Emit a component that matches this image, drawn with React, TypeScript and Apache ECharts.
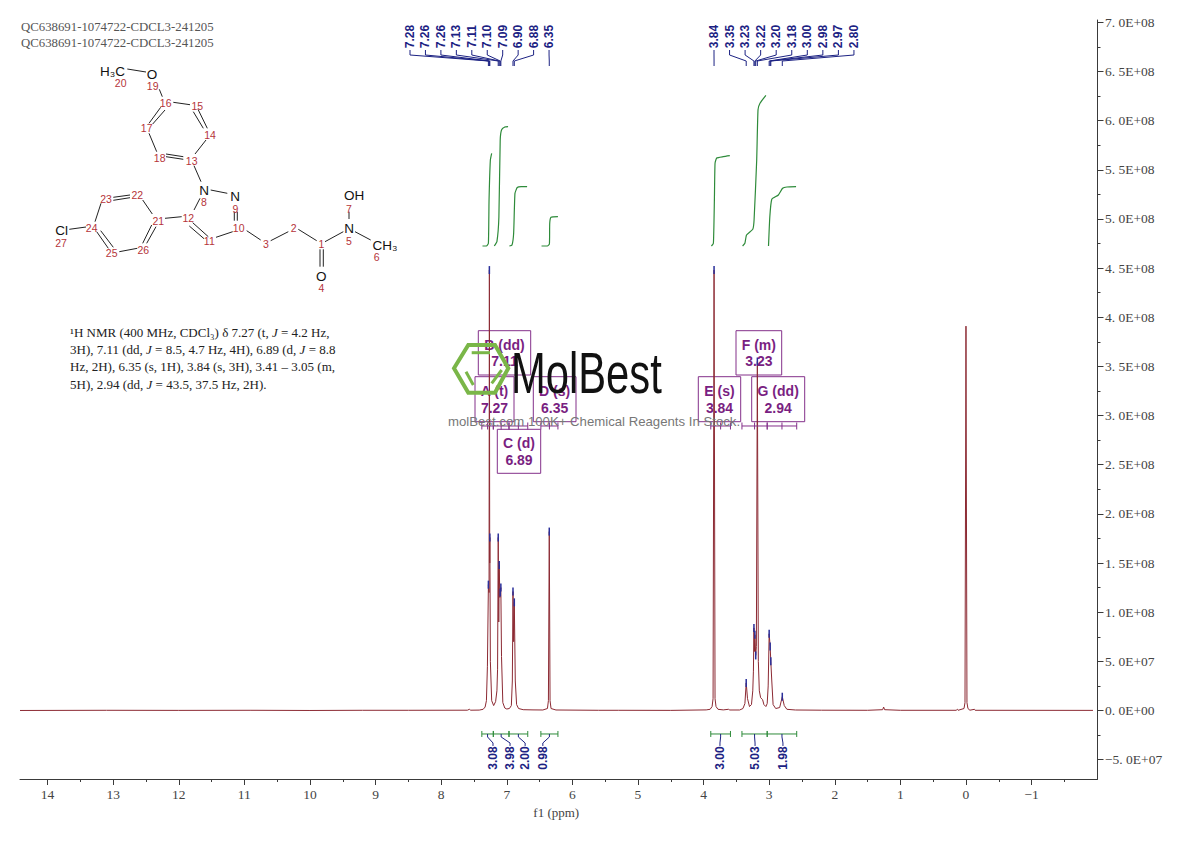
import React, { useEffect, useRef } from "react";
import * as echarts from "echarts";

const SPECTRUM_PPM = [14.42,13.1,12.0,10.9,10.0,9.2,8.5,7.60,7.57,7.55,7.42,7.36,7.33,7.31,7.295,7.28,7.27,7.265,7.26,7.258,7.25,7.23,7.20,7.17,7.15,7.14,7.13,7.122,7.115,7.105,7.10,7.09,7.08,7.06,7.03,7.00,6.96,6.93,6.915,6.905,6.895,6.885,6.87,6.85,6.82,6.75,6.6,6.45,6.38,6.365,6.352,6.34,6.325,6.25,5.6,5.3,4.5,3.96,3.90,3.87,3.855,3.84,3.825,3.81,3.78,3.70,3.62,3.60,3.45,3.40,3.37,3.35,3.33,3.30,3.27,3.25,3.24,3.232,3.225,3.218,3.205,3.195,3.18,3.165,3.15,3.13,3.10,3.08,3.05,3.03,3.015,3.00,2.985,2.975,2.96,2.94,2.90,2.84,2.80,2.77,2.73,2.6,2.2,1.5,1.27,1.255,1.24,1.0,0.15,0.13,0.12,0.03,0.015,0.0,-0.015,-0.03,-0.06,-0.13,-0.14,-1.936];
const SPECTRUM_E8 = [0,0.002,0.001,0.002,0,0.002,0.002,0.003,0.012,0.003,0.004,0.012,0.035,0.1,0.45,1.28,1.2,4.48,1.5,1.76,0.5,0.1,0.05,0.09,0.2,0.42,1.76,0.9,1.48,1.15,1.2,1.25,0.55,0.08,0.025,0.015,0.02,0.05,0.3,1.21,0.7,1.1,0.3,0.06,0.02,0.008,0.006,0.005,0.02,0.1,1.82,0.1,0.02,0.005,0.002,0.002,0.001,0.006,0.012,0.04,0.12,4.48,0.12,0.04,0.012,0.006,0.012,0.005,0.005,0.02,0.07,0.28,0.12,0.04,0.06,0.2,0.4,0.84,0.6,0.77,0.56,0.65,3.55,0.5,0.2,0.13,0.11,0.06,0.04,0.07,0.25,0.78,0.65,0.5,0.3,0.06,0.02,0.03,0.14,0.05,0.012,0.005,0.003,0.002,0.008,0.035,0.008,0.002,0.002,0.012,0.002,0.02,0.08,3.91,0.08,0.02,0.003,0.012,0.002,0.001];

const PEAK_LABELS_LEFT = ["7.28","7.26","7.26","7.13","7.11","7.10","7.09","6.90","6.88","6.35"];
const PEAK_PPM_LEFT = [7.28,7.265,7.258,7.13,7.115,7.10,7.09,6.905,6.885,6.352];
const PEAK_E8_LEFT = [1.28,4.48,1.76,1.76,1.48,1.2,1.25,1.21,1.1,1.82];
const PEAK_LABELS_RIGHT = ["3.84","3.35","3.23","3.22","3.20","3.18","3.00","2.98","2.97","2.80"];
const PEAK_PPM_RIGHT = [3.84,3.35,3.232,3.218,3.205,3.18,3.0,2.985,2.975,2.80];
const PEAK_E8_RIGHT = [4.48,0.28,0.84,0.77,0.56,3.55,0.78,0.65,0.5,0.14];

const INTEGRAL_FROM = [7.38,7.205,6.966,6.48,3.89,3.415,3.03];
const INTEGRAL_TO = [7.205,6.966,6.68,6.22,3.59,3.03,2.58];
const INTEGRAL_VALUES = ["3.08","3.98","2.00","0.98","3.00","5.03","1.98"];
const INTEGRAL_LABEL_PPM = [7.21,6.95,6.72,6.45,3.75,3.215,2.79];

const CURVE_A = [[7.37,4.725],[7.31,4.725],[7.28,4.753],[7.27,5.193],[7.25,5.6],[7.23,5.668]];
const CURVE_B = [[7.19,4.725],[7.15,4.77],[7.12,5.02],[7.1,5.8],[7.08,5.905],[7.03,5.935],[6.98,5.94]];
const CURVE_C = [[6.96,4.725],[6.92,4.735],[6.895,4.855],[6.875,5.26],[6.84,5.32],[6.78,5.33],[6.69,5.33]];
const CURVE_D = [[6.47,4.725],[6.38,4.725],[6.35,4.745],[6.345,4.956],[6.325,5.017],[6.22,5.023]];
const CURVE_E = [[3.88,4.725],[3.85,4.753],[3.835,5.193],[3.825,5.567],[3.8,5.62],[3.7,5.634],[3.6,5.644]];
const CURVE_F = [[3.405,4.725],[3.37,4.753],[3.345,4.837],[3.25,4.895],[3.23,4.99],[3.19,5.6],[3.17,6.11],[3.14,6.177],[3.05,6.258]];
const CURVE_G = [[3.01,4.725],[2.99,5.023],[2.96,5.2],[2.86,5.244],[2.795,5.312],[2.73,5.325],[2.59,5.328]];
const INTEGRAL_CURVES = [CURVE_A,CURVE_B,CURVE_C,CURVE_D,CURVE_E,CURVE_F,CURVE_G];

const X_TICKS = [14,13,12,11,10,9,8,7,6,5,4,3,2,1,0,-1];
const X_MINOR_TICKS = [13.5,12.5,11.5,10.5,9.5,8.5,7.5,6.5,5.5,4.5,3.5,2.5,1.5,0.5,-0.5,-1.5];
const Y_TICK_E7 = [70,65,60,55,50,45,40,35,30,25,20,15,10,5,0,-5];
const Y_TICK_LABELS = ["7. 0E+08","6. 5E+08","6. 0E+08","5. 5E+08","5. 0E+08","4. 5E+08","4. 0E+08","3. 5E+08","3. 0E+08","2. 5E+08","2. 0E+08","1. 5E+08","1. 0E+08","5. 0E+07","0. 0E+00","−5. 0E+07"];
const Y_MINOR_E7 = [67.5,62.5,57.5,52.5,47.5,42.5,37.5,32.5,27.5,22.5,17.5,12.5,7.5,2.5,-2.5];

const TITLE_LINES = ["QC638691-1074722-CDCL3-241205","QC638691-1074722-CDCL3-241205"];
const ASSIGNMENTS = [
  { letter: "A (t)", shift: "7.27", box: [475,376.7,39,45] },
  { letter: "B (dd)", shift: "7.11", box: [478.3,330.7,52.4,44.3] },
  { letter: "C (d)", shift: "6.89", box: [497.3,429.3,43.4,44] },
  { letter: "D (s)", shift: "6.35", box: [533.3,376.7,42.7,45] },
  { letter: "E (s)", shift: "3.84", box: [698.3,376.7,42.4,45] },
  { letter: "F (m)", shift: "3.23", box: [736,330.7,45.7,44.3] },
  { letter: "G (dd)", shift: "2.94", box: [751.7,376.7,53,45] },
];

const BONDS = [
  [127.3,69,146,72],[159.3,89.3,162.3,96.7],[173.3,102.3,190,104.7],[198,109.3,207.3,128.3],[193.3,111.7,203.3,128.3],
  [206,140,195,154],[183.3,156.7,166,154],[183.3,159.3,166,156.7],[156.7,151.7,149,133.3],[149,123.3,160.7,107.3],[152.7,124,165,110],
  [194,165.7,201,181.7],[210.7,190,227.3,193.3],[234.3,211.7,234.3,220.7],[237.3,211.7,237.3,220.7],[194,210,200,198.3],
  [192.7,222.7,208.3,236.7],[189.3,226,204,238.7],[216,237.3,232.7,231.7],[246.7,230.7,260.7,240],[270.7,240.7,288.3,231.7],
  [298.3,229.3,316.7,240.7],[320,249.3,320,266.7],[323.3,249.3,323.3,266.7],[325,241.7,343.3,231.7],[349,211.7,349,219],
  [355,231.7,370.7,240],[165,218.3,181.7,216.7],[152.3,214,142.7,200],[130,195,113.3,197.3],[130,197.7,113.3,200.3],
  [101,203.3,95,221.7],[69.3,229.3,86,227],[96.7,231.7,108.3,248.3],[100.7,230.7,113.3,247.3],[119.3,251.7,137.3,248.3],
  [142.7,243.3,151.7,225],[146.7,243.3,156,226.7],
];
const ATOM_TEXT: [string, number, number][] = [
  ["H₃C",112.5,71],["O",152,74],["N",204,190],["N",235,196.7],["O",321.3,276],["N",349,228.3],["OH",354,195.5],["CH₃",385,245.5],["Cl",61.7,230.7],
];
const ATOM_NUMBERS: [string, number, number][] = [
  ["20",120.7,82.7],["19",152.7,86],["16",165.7,102.7],["15",197.3,106],["14",210,135],["13",191.7,160.7],["18",159.7,157.7],["17",146.7,128.3],
  ["8",204,202],["9",235.3,208.7],["10",238.7,228.3],["12",188.3,217.7],["11",209.3,241.3],["21",158.3,220.7],["3",266,244],["2",293.7,228.3],
  ["1",321.3,244],["4",321.3,288.3],["5",349,240.7],["7",349,208.5],["6",376.7,257],["22",137.3,195],["23",106,198.7],["24",91.7,227.7],
  ["27",61,243],["25",111.7,253.3],["26",143.3,250],
];
const DESCRIPTION = [
  "{t|¹H NMR (400 MHz, CDCl₃) δ 7.27 (t, }{i|J}{t| = 4.2 Hz,}",
  "{t|3H), 7.11 (dd, }{i|J}{t| = 8.5, 4.7 Hz, 4H), 6.89 (d, }{i|J}{t| = 8.8}",
  "{t|Hz, 2H), 6.35 (s, 1H), 3.84 (s, 3H), 3.41 – 3.05 (m,}",
  "{t|5H), 2.94 (dd, }{i|J}{t| = 43.5, 37.5 Hz, 2H).}",
];

const NAVY = "#1c2283";
const GREEN = "#2e8b3a";
const PURPLE = "#84308a";
const AXIS = "#3a3a3a";
const SERIF = '"Liberation Serif", serif';
const PEAK_LINE_Y = [50, 55, 61, 66];

function buildGraphic() {
  const els: any[] = [];
  TITLE_LINES.forEach((t, i) => els.push({ type: "text", x: 21, y: 27 + i * 16, style: { text: t, fill: "#555", font: `12.8px ${SERIF}`, verticalAlign: "middle" } }));
  BONDS.forEach((b) => els.push({ type: "line", shape: { x1: b[0], y1: b[1], x2: b[2], y2: b[3] }, style: { stroke: "#222", lineWidth: 1 } }));
  ATOM_TEXT.forEach(([t, x, y]) => els.push({ type: "text", x, y, style: { text: t, fill: "#111", font: '13.5px "Liberation Sans"', align: "center", verticalAlign: "middle" } }));
  ATOM_NUMBERS.forEach(([t, x, y]) => els.push({ type: "text", x, y, style: { text: t, fill: "#b5343a", font: '10.5px "Liberation Sans"', align: "center", verticalAlign: "middle" } }));
  DESCRIPTION.forEach((t, i) => els.push({
    type: "text", x: 70, y: 332 + i * 17.4,
    style: { text: t, verticalAlign: "middle", rich: {
      t: { font: '13px "Liberation Serif"', fill: "#222" },
      i: { font: 'italic 13px "Liberation Serif"', fill: "#222" },
    } },
  }));
  ASSIGNMENTS.forEach((a) => {
    const [x, y, w, h] = a.box;
    els.push({ type: "rect", shape: { x, y, width: w, height: h }, style: { fill: "none", stroke: PURPLE, lineWidth: 1 } });
    els.push({ type: "text", x: x + w / 2, y: y + h / 2 - 8, style: { text: a.letter, fill: "#7a1f82", font: 'bold 14px "Liberation Sans"', align: "center", verticalAlign: "middle" } });
    els.push({ type: "text", x: x + w / 2, y: y + h / 2 + 8.5, style: { text: a.shift, fill: "#7a1f82", font: 'bold 14px "Liberation Sans"', align: "center", verticalAlign: "middle" } });
  });
  // Watermark
  const LOGO = "#7ab648";
  els.push({ type: "polygon", z: 50, shape: { points: [[454,368.3],[468.3,345],[495,345],[508.3,368.3],[495,392.7],[468.3,392.7]] }, style: { fill: "none", stroke: LOGO, lineWidth: 4 } });
  [[471.7,352.7,490,352.7],[466,371.7,473.3,385],[491.7,383.3,501.7,370]].forEach((l) =>
    els.push({ type: "line", z: 50, shape: { x1: l[0], y1: l[1], x2: l[2], y2: l[3] }, style: { stroke: LOGO, lineWidth: 3 } }));
  els.push({ type: "text", z: 50, x: 511, y: 373, scaleX: 0.72, style: { text: "MolBest", fill: "#111", font: '58px "Liberation Sans"', verticalAlign: "middle" } });
  els.push({ type: "text", z: 50, x: 448, y: 421.5, style: { text: "molBest.com 100K+ Chemical Reagents In Stock.", fill: "#777", font: '13.2px "Liberation Sans"', verticalAlign: "middle" } });
  return els;
}

function peakSeries(ppm: number[], heights: number[], labels: string[], startX: number, step: number) {
  return {
    type: "custom", silent: true, clip: false, z: 5,
    encode: { x: 0, y: 1 },
    data: ppm.map((p, i) => [p, heights[i] * 1e8]),
    renderItem: (params: any, api: any) => {
      const i = params.dataIndex;
      const tip = api.coord([api.value(0), api.value(1)]);
      const lx = startX + i * step;
      return {
        type: "group",
        children: [
          { type: "rect", shape: { x: tip[0] - 0.75, y: tip[1] - 4, width: 1.5, height: 8 }, style: { fill: "#2a2f9a" } },
          { type: "polyline", shape: { points: [[lx, PEAK_LINE_Y[0]], [lx, PEAK_LINE_Y[1]], [tip[0], PEAK_LINE_Y[2]], [tip[0], PEAK_LINE_Y[3]]] }, style: { stroke: NAVY, lineWidth: 1, fill: "none" } },
          { type: "text", x: lx, y: 36.5, rotation: Math.PI / 2, style: { text: labels[i], fill: NAVY, font: 'bold 12px "Liberation Sans"', align: "center", verticalAlign: "middle" } },
        ],
      };
    },
  };
}

function bracket(api: any, from: number, to: number, v: number, cap: number, color: string, stub: boolean) {
  const a = api.coord([from, v]);
  const b = api.coord([to, v]);
  const style = { stroke: color, lineWidth: 1, fill: "none" };
  const kids: any[] = [
    { type: "line", shape: { x1: a[0], y1: a[1], x2: b[0], y2: b[1] }, style },
    { type: "line", shape: { x1: a[0], y1: a[1] - cap, x2: a[0], y2: a[1] + cap }, style },
    { type: "line", shape: { x1: b[0], y1: b[1] - cap, x2: b[0], y2: b[1] + cap }, style },
  ];
  if (stub) {
    const m = (a[0] + b[0]) / 2;
    kids.push({ type: "line", shape: { x1: m, y1: a[1] - cap, x2: m, y2: a[1] + cap }, style });
  }
  return kids;
}

export default function App() {
  const ref = useRef<HTMLDivElement>(null);
  useEffect(() => {
    document.body.style.margin = "0";
    const chart = echarts.init(ref.current!, undefined, { renderer: "svg" });
    const xBase = {
      type: "value", inverse: true, min: -2.005, max: 14.42, splitLine: { show: false }, axisLine: { onZero: false },
    };
    const yBase = {
      type: "value", min: -6.97e7, max: 7.024e8, position: "right", splitLine: { show: false }, axisLine: { onZero: false },
    };
    chart.setOption({
      animation: false,
      backgroundColor: "#fff",
      grid: { left: 20, right: 92.5, top: 20, bottom: 62, containLabel: false },
      graphic: { elements: buildGraphic() },
      xAxis: [
        {
          ...xBase,
          name: "f1 (ppm)", nameLocation: "middle", nameGap: 24,
          nameTextStyle: { fontFamily: "Liberation Serif", fontSize: 13, color: "#444", padding: [0, 5, 0, 0] },
          axisLine: { show: true, onZero: false, lineStyle: { color: AXIS, width: 1 } },
          axisTick: { show: true, length: 6, inside: false, lineStyle: { color: AXIS }, customValues: X_TICKS },
          axisLabel: { show: true, margin: 8, customValues: X_TICKS, fontFamily: "Liberation Serif", fontSize: 13.5, color: "#444",
            formatter: (v: number) => (v < 0 ? `−${-v}` : `${v}`) },
        },
        {
          ...xBase,
          position: "bottom",
          axisLine: { show: false, onZero: false },
          axisTick: { show: true, length: 3, lineStyle: { color: AXIS }, customValues: X_MINOR_TICKS },
          axisLabel: { show: false },
        },
      ],
      yAxis: [
        {
          ...yBase,
          axisLine: { show: true, onZero: false, lineStyle: { color: AXIS, width: 1 } },
          axisTick: { show: true, length: 6, lineStyle: { color: AXIS }, customValues: Y_TICK_E7.map((v) => v * 1e7) },
          axisLabel: { show: true, margin: 7.5, align: "left", customValues: Y_TICK_E7.map((v) => v * 1e7), fontFamily: "Liberation Serif", fontSize: 13.5, color: "#444",
            formatter: (v: number) => Y_TICK_LABELS[Y_TICK_E7.indexOf(Math.round(v / 1e7))] },
        },
        {
          ...yBase,
          axisLine: { show: false, onZero: false },
          axisTick: { show: true, length: 3, lineStyle: { color: AXIS }, customValues: Y_MINOR_E7.map((v) => v * 1e7) },
          axisLabel: { show: false },
        },
      ],
      series: [
        {
          type: "line", name: "spectrum", silent: true, showSymbol: false, symbol: "none", z: 3, clip: false,
          data: SPECTRUM_PPM.map((p, i) => [p, SPECTRUM_E8[i] * 1e8]),
          lineStyle: { color: "#8c2a33", width: 1 },
        },
        ...INTEGRAL_CURVES.map((c, i) => ({
          type: "line", name: `integral ${i}`, silent: true, showSymbol: false, symbol: "none", smooth: 0.15, z: 3,
          data: c.map(([p, v]) => [p, v * 1e8]),
          lineStyle: { color: GREEN, width: 1.2 },
        })),
        peakSeries(PEAK_PPM_LEFT, PEAK_E8_LEFT, PEAK_LABELS_LEFT, 410, 15.45),
        peakSeries(PEAK_PPM_RIGHT, PEAK_E8_RIGHT, PEAK_LABELS_RIGHT, 714, 15.55),
        {
          type: "custom", silent: true, clip: false, z: 4,
          encode: { x: [0, 1], y: 2 },
          data: INTEGRAL_FROM.map((f, i) => [f, INTEGRAL_TO[i], -0.239e8, 2.894e8]),
          renderItem: (params: any, api: any) => {
            const i = params.dataIndex;
            const from = api.value(0);
            const to = api.value(1);
            const bottomV = api.value(2);
            const topV = api.value(3);
            const mid = api.coord([(from + to) / 2, bottomV]);
            const lab = api.coord([INTEGRAL_LABEL_PPM[i], bottomV]);
            return {
              type: "group",
              children: [
                ...bracket(api, from, to, bottomV, 3, GREEN, false),
                ...bracket(api, from, to, topV, 3.5, PURPLE, true),
                { type: "polyline", shape: { points: [[mid[0], mid[1]], [mid[0], mid[1] + 3], [lab[0], mid[1] + 9], [lab[0], mid[1] + 12]] }, style: { stroke: NAVY, lineWidth: 1, fill: "none" } },
                { type: "text", x: lab[0], y: mid[1] + 24, rotation: Math.PI / 2, style: { text: INTEGRAL_VALUES[i], fill: NAVY, font: 'bold 12px "Liberation Sans"', align: "center", verticalAlign: "middle" } },
              ],
            };
          },
        },
      ],
    });
    return () => chart.dispose();
  }, []);
  return <div ref={ref} style={{ width: 1190, height: 841, position: "fixed", left: 0, top: 0 }} />;
}
